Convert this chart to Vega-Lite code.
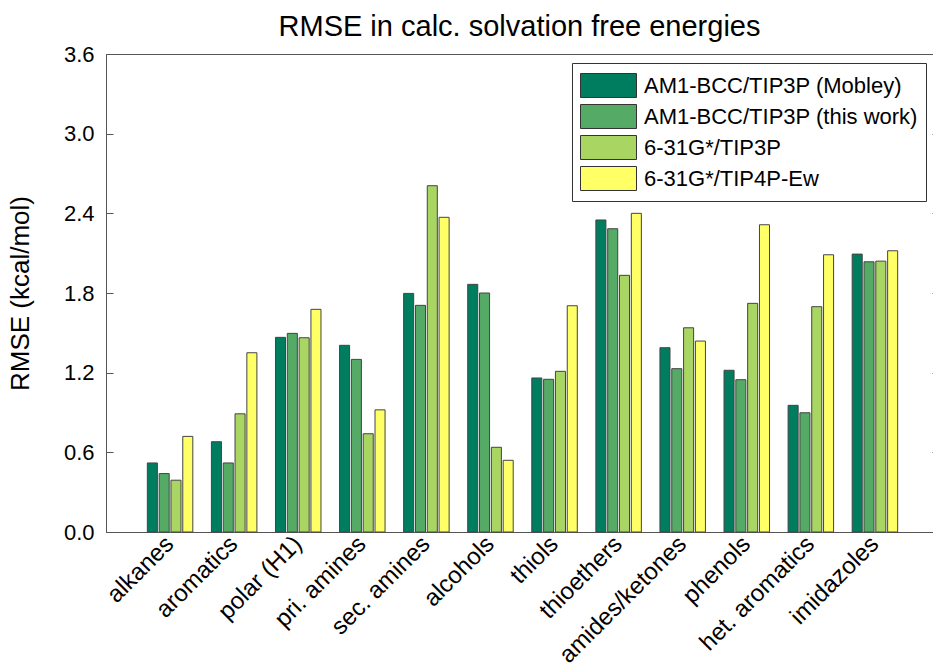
{
  "$schema": "https://vega.github.io/schema/vega-lite/v6.json",
  "width": 833,
  "height": 478,
  "autosize": {"type": "none"},
  "padding": {"left": 106, "top": 54, "right": -6, "bottom": 137},
  "background": "white",
  "title": {
    "text": "RMSE in calc. solvation free energies",
    "font": "Liberation Sans",
    "fontSize": 29,
    "fontWeight": "normal",
    "color": "black",
    "offset": 1,
    "dx": -3
  },
  "data": {
    "values": [
      {"group": "alkanes", "method": "AM1-BCC/TIP3P (Mobley)", "rmse": 0.52},
      {"group": "alkanes", "method": "AM1-BCC/TIP3P (this work)", "rmse": 0.44},
      {"group": "alkanes", "method": "6-31G*/TIP3P", "rmse": 0.39},
      {"group": "alkanes", "method": "6-31G*/TIP4P-Ew", "rmse": 0.72},
      {"group": "aromatics", "method": "AM1-BCC/TIP3P (Mobley)", "rmse": 0.68},
      {"group": "aromatics", "method": "AM1-BCC/TIP3P (this work)", "rmse": 0.52},
      {"group": "aromatics", "method": "6-31G*/TIP3P", "rmse": 0.89},
      {"group": "aromatics", "method": "6-31G*/TIP4P-Ew", "rmse": 1.35},
      {"group": "polar (H1)", "method": "AM1-BCC/TIP3P (Mobley)", "rmse": 1.466},
      {"group": "polar (H1)", "method": "AM1-BCC/TIP3P (this work)", "rmse": 1.496},
      {"group": "polar (H1)", "method": "6-31G*/TIP3P", "rmse": 1.463},
      {"group": "polar (H1)", "method": "6-31G*/TIP4P-Ew", "rmse": 1.677},
      {"group": "pri. amines", "method": "AM1-BCC/TIP3P (Mobley)", "rmse": 1.406},
      {"group": "pri. amines", "method": "AM1-BCC/TIP3P (this work)", "rmse": 1.30},
      {"group": "pri. amines", "method": "6-31G*/TIP3P", "rmse": 0.74},
      {"group": "pri. amines", "method": "6-31G*/TIP4P-Ew", "rmse": 0.92},
      {"group": "sec. amines", "method": "AM1-BCC/TIP3P (Mobley)", "rmse": 1.797},
      {"group": "sec. amines", "method": "AM1-BCC/TIP3P (this work)", "rmse": 1.707},
      {"group": "sec. amines", "method": "6-31G*/TIP3P", "rmse": 2.608},
      {"group": "sec. amines", "method": "6-31G*/TIP4P-Ew", "rmse": 2.37},
      {"group": "alcohols", "method": "AM1-BCC/TIP3P (Mobley)", "rmse": 1.865},
      {"group": "alcohols", "method": "AM1-BCC/TIP3P (this work)", "rmse": 1.80},
      {"group": "alcohols", "method": "6-31G*/TIP3P", "rmse": 0.638},
      {"group": "alcohols", "method": "6-31G*/TIP4P-Ew", "rmse": 0.54},
      {"group": "thiols", "method": "AM1-BCC/TIP3P (Mobley)", "rmse": 1.16},
      {"group": "thiols", "method": "AM1-BCC/TIP3P (this work)", "rmse": 1.15},
      {"group": "thiols", "method": "6-31G*/TIP3P", "rmse": 1.21},
      {"group": "thiols", "method": "6-31G*/TIP4P-Ew", "rmse": 1.704},
      {"group": "thioethers", "method": "AM1-BCC/TIP3P (Mobley)", "rmse": 2.35},
      {"group": "thioethers", "method": "AM1-BCC/TIP3P (this work)", "rmse": 2.284},
      {"group": "thioethers", "method": "6-31G*/TIP3P", "rmse": 1.933},
      {"group": "thioethers", "method": "6-31G*/TIP4P-Ew", "rmse": 2.40},
      {"group": "amides/ketones", "method": "AM1-BCC/TIP3P (Mobley)", "rmse": 1.388},
      {"group": "amides/ketones", "method": "AM1-BCC/TIP3P (this work)", "rmse": 1.23},
      {"group": "amides/ketones", "method": "6-31G*/TIP3P", "rmse": 1.538},
      {"group": "amides/ketones", "method": "6-31G*/TIP4P-Ew", "rmse": 1.438},
      {"group": "phenols", "method": "AM1-BCC/TIP3P (Mobley)", "rmse": 1.218},
      {"group": "phenols", "method": "AM1-BCC/TIP3P (this work)", "rmse": 1.147},
      {"group": "phenols", "method": "6-31G*/TIP3P", "rmse": 1.722},
      {"group": "phenols", "method": "6-31G*/TIP4P-Ew", "rmse": 2.314},
      {"group": "het. aromatics", "method": "AM1-BCC/TIP3P (Mobley)", "rmse": 0.954},
      {"group": "het. aromatics", "method": "AM1-BCC/TIP3P (this work)", "rmse": 0.898},
      {"group": "het. aromatics", "method": "6-31G*/TIP3P", "rmse": 1.697},
      {"group": "het. aromatics", "method": "6-31G*/TIP4P-Ew", "rmse": 2.088},
      {"group": "imidazoles", "method": "AM1-BCC/TIP3P (Mobley)", "rmse": 2.093},
      {"group": "imidazoles", "method": "AM1-BCC/TIP3P (this work)", "rmse": 2.035},
      {"group": "imidazoles", "method": "6-31G*/TIP3P", "rmse": 2.04},
      {"group": "imidazoles", "method": "6-31G*/TIP4P-Ew", "rmse": 2.118}
    ]
  },
  "encoding": {
    "x": {
      "field": "group",
      "type": "nominal",
      "sort": null,
      "scale": {"paddingInner": 0.29, "paddingOuter": 0.645},
      "axis": {
        "title": null,
        "labelAngle": -45,
        "labelAlign": "right",
        "labelBaseline": "middle",
        "labelFont": "Liberation Sans",
        "labelFontSize": 24,
        "labelColor": "black",
        "labelPadding": 8,
        "ticks": false,
        "domainColor": "#555555",
        "labelLimit": 300
      }
    },
    "xOffset": {
      "field": "method",
      "type": "nominal",
      "sort": ["AM1-BCC/TIP3P (Mobley)", "AM1-BCC/TIP3P (this work)", "6-31G*/TIP3P", "6-31G*/TIP4P-Ew"],
      "scale": {"paddingInner": 0.15, "paddingOuter": 0}
    },
    "y": {
      "field": "rmse",
      "type": "quantitative",
      "scale": {"domain": [0, 3.6], "nice": false, "zero": true}
    },
    "color": {
      "field": "method",
      "type": "nominal",
      "sort": ["AM1-BCC/TIP3P (Mobley)", "AM1-BCC/TIP3P (this work)", "6-31G*/TIP3P", "6-31G*/TIP4P-Ew"],
      "scale": {
        "domain": ["AM1-BCC/TIP3P (Mobley)", "AM1-BCC/TIP3P (this work)", "6-31G*/TIP3P", "6-31G*/TIP4P-Ew"],
        "range": ["#007D5F", "#55AA66", "#A9D662", "#FFFF66"]
      },
      "legend": {
        "title": null,
        "orient": "none",
        "legendX": 466,
        "legendY": 9,
        "symbolType": "M-1,-0.857H3V0.857H-1Z",
        "symbolSize": 784,
        "symbolStrokeColor": "#333333",
        "symbolStrokeWidth": 1,
        "symbolOpacity": 1,
        "labelFont": "Liberation Sans",
        "labelFontSize": 22,
        "labelColor": "black",
        "labelOffset": 35,
        "labelLimit": 400,
        "rowPadding": 2,
        "padding": 8,
        "strokeColor": "#333333",
        "fillColor": "white"
      }
    }
  },
  "layer": [
    {
      "mark": {"type": "bar", "stroke": "#444444", "strokeWidth": 1},
      "encoding": {
        "y": {
          "field": "rmse",
          "type": "quantitative",
          "axis": {
            "title": "RMSE (kcal/mol)",
            "titleFont": "Liberation Sans",
            "titleFontSize": 26,
            "titleFontWeight": "normal",
            "titleColor": "black",
            "titlePadding": 30,
            "values": [0, 0.6, 1.2, 1.8, 2.4, 3.0, 3.6],
            "format": ".1f",
            "grid": false,
            "tickSize": -7,
            "tickColor": "#555555",
            "domainColor": "#555555",
            "labelFont": "Liberation Sans",
            "labelFontSize": 22,
            "labelColor": "black",
            "labelPadding": 19
          }
        }
      }
    },
    {
      "mark": {"type": "bar", "opacity": 0},
      "encoding": {
        "y": {
          "field": "rmse",
          "type": "quantitative",
          "axis": {
            "orient": "right",
            "title": null,
            "labels": false,
            "values": [0, 0.6, 1.2, 1.8, 2.4, 3.0, 3.6],
            "grid": false,
            "tickSize": -7,
            "tickColor": "#555555",
            "domainColor": "#555555"
          }
        }
      }
    }
  ],
  "resolve": {"axis": {"y": "independent"}},
  "config": {
    "view": {"stroke": "#555555", "strokeWidth": 1},
    "font": "Liberation Sans"
  }
}
